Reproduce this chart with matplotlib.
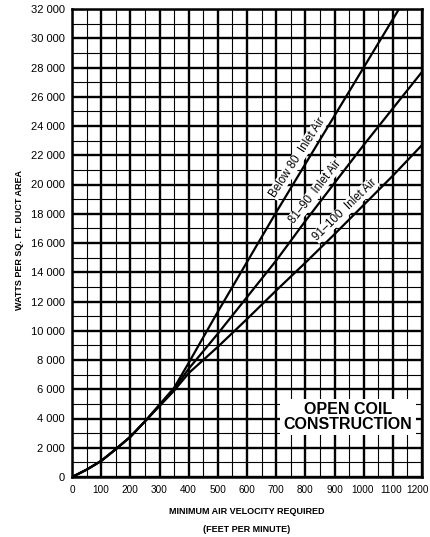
import numpy as np
import matplotlib.pyplot as plt
import matplotlib.transforms as mtransforms
from matplotlib.ticker import MultipleLocator

# velocity (feet per minute)
velocity = [0, 50, 100, 150, 200, 250, 300, 350, 400, 500, 600, 700, 800, 900, 1000, 1100, 1200]

# watts per sq. ft. duct area
below_80 = [0, 500, 1100, 1900, 2750, 3800, 4950, 6100, 7800, 11300, 14700, 18100, 21400, 24700, 28000, 31300, 34600]
r81_90 = [0, 500, 1100, 1900, 2750, 3800, 4900, 6000, 7400, 9800, 12300, 14800, 17500, 20100, 22700, 25200, 27700]
r91_100 = [0, 500, 1100, 1900, 2750, 3800, 4850, 5900, 7100, 8900, 10800, 12750, 14650, 16600, 18600, 20600, 22700]

x_ticks = list(range(0, 1201, 100))
y_ticks = list(range(0, 32001, 2000))
y_labels = ['0' if v == 0 else '%d %03d' % (v // 1000, v % 1000) for v in y_ticks]

plt.rcParams['font.family'] = ['Liberation Sans', 'DejaVu Sans']

fig = plt.figure(figsize=(4.3, 5.37), dpi=100)
ax = fig.add_axes([72 / 430, 60 / 537, 350 / 430, 468 / 537])

ax.set_xlim(0, 1200)
ax.set_ylim(0, 32000)
ax.xaxis.set_minor_locator(MultipleLocator(50))
ax.yaxis.set_minor_locator(MultipleLocator(1000))
ax.grid(which='major', color='black', linewidth=1.7)
ax.grid(which='minor', color='black', linewidth=0.8)
ax.set_axisbelow(True)
for s in ax.spines.values():
    s.set_linewidth(1.8)

ax.set_xticks(x_ticks)
ax.set_xticklabels([str(v) for v in x_ticks], fontsize=7.2)
ax.set_yticks(y_ticks)
ax.set_yticklabels(y_labels, fontsize=8)
ax.tick_params(which='both', length=0)
ax.tick_params(axis='x', pad=6)
ax.tick_params(axis='y', pad=5)
# nudge the crowded labels at the right end, as in the original
for lab, dx in zip(ax.get_xticklabels()[-3:], (-1, -2, -4)):
    lab.set_transform(lab.get_transform() +
                      mtransforms.ScaledTranslation(dx / 100, 0, fig.dpi_scale_trans))

for ys in (below_80, r81_90, r91_100):
    ax.plot(velocity, ys, color='black', linewidth=1.6)

labels = [("Below 80  Inlet Air", 800, 21400, 57),
          ("81\u201390  Inlet Air", 860, 19060, 52),
          ("91\u2013100  Inlet Air", 960, 17800, 44)]
for txt, lx, ly, rot in labels:
    ax.annotate(txt, (lx, ly), xytext=(-2, 2), textcoords='offset points',
                rotation=rot, rotation_mode='anchor', ha='center', va='bottom',
                fontsize=8.3,
                bbox=dict(facecolor='white', edgecolor='none', pad=0.5))

ax.text(945, 4100, "OPEN COIL\nCONSTRUCTION", ha='center', va='center',
        fontsize=11.5, fontweight='bold', linespacing=0.95,
        bbox=dict(facecolor='white', edgecolor='none', pad=2.5))

fig.text(20 / 430, 1 - 240 / 537, "WATTS PER SQ. FT. DUCT AREA", rotation=90,
         ha='center', va='center', fontsize=6.5, fontweight='bold')
fig.text(247 / 430, 1 - 512 / 537, "MINIMUM AIR VELOCITY REQUIRED",
         ha='center', va='center', fontsize=6.5, fontweight='bold')
fig.text(247 / 430, 1 - 530 / 537, "(FEET PER MINUTE)",
         ha='center', va='center', fontsize=6.5, fontweight='bold')

fig.savefig('out.png', dpi=100)
